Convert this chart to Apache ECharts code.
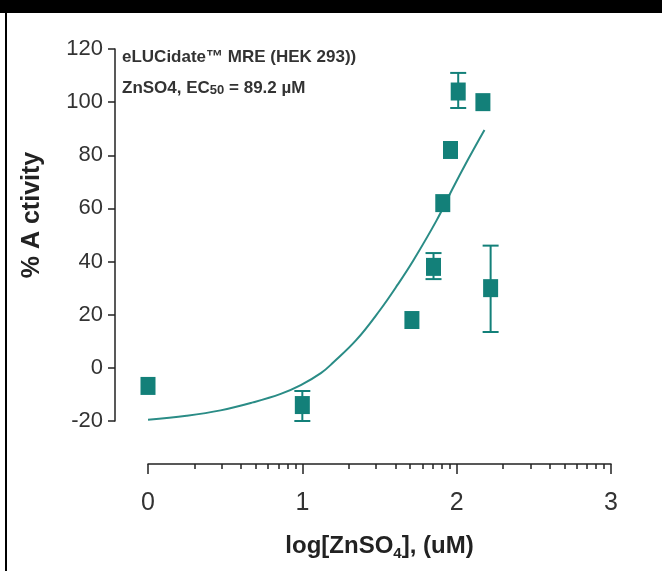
<!DOCTYPE html>
<html>
<head>
<meta charset="utf-8">
<script src="https://cdn.jsdelivr.net/npm/echarts@6/dist/echarts.min.js"></script>
<style>
html,body{margin:0;padding:0;background:#fff;}
#c{width:662px;height:571px;}
</style>
</head>
<body>
<div id="c"></div>
<script>
// Data
const logConc = [0, 1.0, 1.71, 1.85, 1.91, 1.96, 2.01, 2.17, 2.22];
const activity = [-6.8, -14, 18, 38, 62, 82, 104, 100, 30];
const errLow  = [null, -20, null, 33.4, null, null, 97.8, null, 13.5];
const errHigh = [null, -8.7, null, 43.2, null, null, 111, null, 46];
const fitX = [0, 0.25, 0.47, 0.68, 0.86, 0.99, 1.12, 1.2, 1.35, 1.5, 1.62, 1.72, 1.87, 1.97, 2.07, 2.18];
const fitY = [-19.5, -18, -16, -13, -9.8, -6.5, -2, 2, 10.5, 21.5, 31.5, 40.5, 55.5, 67, 78, 89.5];
const xTicks = [0, 1, 2, 3];
const yTicks = [-20, 0, 20, 40, 60, 80, 100, 120];

const teal = '#138079';
const minorTicks = [];
for (let d = 0; d < 3; d++) for (let k = 2; k <= 9; k++) minorTicks.push(d + Math.log10(k));

const chart = echarts.init(document.getElementById('c'));
const font = '"Liberation Sans", Arial, sans-serif';
chart.setOption({
  animation: false,
  backgroundColor: '#fff',
  grid: {left: 148, right: 51, top: 49, bottom: 150},
  xAxis: [{
    type: 'value', min: 0, max: 3, interval: 1, offset: 43,
    axisLine: {show: true, onZero: false, lineStyle: {color: '#222', width: 1.5}},
    axisTick: {show: true, length: 10, lineStyle: {color: '#222', width: 1.5}},
    axisLabel: {margin: 27, fontSize: 25, color: '#333', fontFamily: font,
      customValues: xTicks},
    splitLine: {show: false},
    name: '{a|log[ZnSO}{s|4}{a|], (uM)}', nameLocation: 'middle', nameGap: 68,
    nameTextStyle: {rich: {
      a: {fontSize: 24, fontWeight: 'bold', color: '#222', fontFamily: font},
      s: {fontSize: 15, fontWeight: 'bold', color: '#222', fontFamily: font, verticalAlign: 'bottom', padding: [14,0,0,0]}
    }}
  }, {
    type: 'value', min: 0, max: 3, offset: 43, position: 'bottom',
    axisLine: {show: false, onZero: false},
    axisTick: {show: true, length: 5, customValues: minorTicks, lineStyle: {color: '#222', width: 1.5}},
    axisLabel: {show: false},
    splitLine: {show: false}
  }],
  yAxis: {
    type: 'value', min: -20, max: 120, interval: 20, offset: 33,
    axisLine: {show: true, onZero: false, lineStyle: {color: '#222', width: 1.5}},
    axisTick: {show: true, length: 7, lineStyle: {color: '#222', width: 1.5}},
    axisLabel: {margin: 12, fontSize: 22, color: '#333', fontFamily: font, customValues: yTicks},
    splitLine: {show: false}
  },
  graphic: [
    {type: 'rect', shape: {x: 0, y: 0, width: 662, height: 13}, style: {fill: '#000'}},
    {type: 'rect', shape: {x: 5, y: 0, width: 2, height: 571}, style: {fill: '#000'}},
    {type: 'text', x: 122, y: 57, style: {text: 'eLUCidate™ MRE (HEK 293))', font: 'bold 17px ' + font, fill: '#333', verticalAlign: 'middle'}},
    {type: 'text', x: 122, y: 88, style: {
      text: '{a|ZnSO4, EC}{s|50}{a| = 89.2 µM}', verticalAlign: 'middle',
      rich: {a: {font: 'bold 17px ' + font, fill: '#333'}, s: {font: 'bold 13px ' + font, fill: '#333', verticalAlign: 'bottom'}}
    }},
    {type: 'text', x: 32, y: 215, rotation: Math.PI / 2, style: {
      text: '% A ctivity', font: 'bold 25px ' + font, fill: '#222', align: 'center', verticalAlign: 'middle'}}
  ],
  series: [
    {
      type: 'line', data: fitX.map((x, i) => [x, fitY[i]]), smooth: 0.4, showSymbol: false,
      lineStyle: {color: '#2a8c86', width: 2}, z: 2
    },
    {
      type: 'custom', z: 3, clip: false,
      data: logConc.map((x, i) => [x, errLow[i], errHigh[i]]).filter(d => d[1] !== null),
      renderItem: function (params, api) {
        const lo = api.coord([api.value(0), api.value(1)]);
        const hi = api.coord([api.value(0), api.value(2)]);
        const w = 8;
        const st = {stroke: teal, lineWidth: 2};
        return {type: 'group', children: [
          {type: 'line', shape: {x1: lo[0], y1: lo[1], x2: hi[0], y2: hi[1]}, style: st},
          {type: 'line', shape: {x1: lo[0]-w, y1: lo[1], x2: lo[0]+w, y2: lo[1]}, style: st},
          {type: 'line', shape: {x1: hi[0]-w, y1: hi[1], x2: hi[0]+w, y2: hi[1]}, style: st}
        ]};
      }
    },
    {
      type: 'scatter', clip: false, z: 4,
      data: logConc.map((x, i) => [x, activity[i]]),
      symbol: 'rect', symbolSize: [15, 18],
      itemStyle: {color: teal, opacity: 1}
    }
  ]
});
</script>
</body>
</html>
